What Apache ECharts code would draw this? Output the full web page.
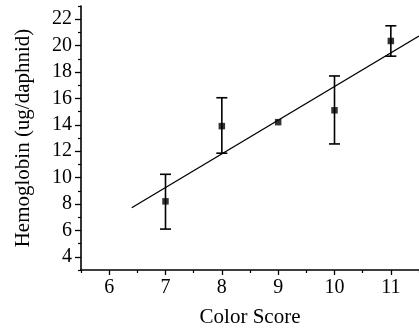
<!DOCTYPE html>
<html>
<head>
<meta charset="utf-8">
<script src="https://cdn.jsdelivr.net/npm/echarts@6/dist/echarts.min.js"></script>
<style>
  html, body { margin: 0; padding: 0; background: #fff; }
  #chart { width: 419px; height: 333px; }
</style>
</head>
<body>
<div id="chart"></div>
<script>
// Hemoglobin content per daphnid by color score
const colorScore = [7, 8, 9, 10, 11];
const hemoglobin = [8.2, 13.9, 14.2, 15.1, 20.35];
// Error bar limits (null: spread hidden behind the marker)
const errLow = [6.1, 11.85, null, 12.55, 19.2];
const errHigh = [10.25, 16.05, null, 17.7, 21.5];

// Linear fit endpoints
const fitX = [6.4, 11.5];
const fitY = [7.72, 20.73];

// Axis ticks
const xMajor = [6, 7, 8, 9, 10, 11];
const xMinor = [5.5, 6.5, 7.5, 8.5, 9.5, 10.5, 11.5];
const yMajor = [4, 6, 8, 10, 12, 14, 16, 18, 20, 22];
const yMinor = [3, 5, 7, 9, 11, 13, 15, 17, 19, 21, 23];

const FONT = 'Liberation Serif';
const chart = echarts.init(document.getElementById('chart'), null, { renderer: 'canvas' });

const baseX = { type: 'value', min: 5.5, max: 11.5, splitLine: { show: false } };
const baseY = { type: 'value', min: 3, max: 23, splitLine: { show: false } };

chart.setOption({
  backgroundColor: '#fff',
  animation: false,
  grid: { left: 81, right: -4.6, top: 6, bottom: 63 },
  xAxis: [
    Object.assign({}, baseX, {
      name: 'Color Score',
      nameLocation: 'middle',
      nameGap: 37,
      nameTextStyle: { fontFamily: FONT, fontSize: 21, color: '#000' },
      axisLine: { show: true, lineStyle: { color: '#000', width: 1.6 } },
      axisTick: { show: true, inside: false, length: 5, customValues: xMajor, lineStyle: { color: '#000', width: 1.3 } },
      axisLabel: { customValues: xMajor, margin: 8, fontFamily: FONT, fontSize: 20, color: '#000' }
    }),
    Object.assign({}, baseX, {
      position: 'bottom',
      axisLine: { show: false },
      axisTick: { show: true, inside: false, length: 3, customValues: xMinor, lineStyle: { color: '#000', width: 1.2 } },
      axisLabel: { show: false }
    })
  ],
  yAxis: [
    Object.assign({}, baseY, {
      name: 'Hemoglobin (ug/daphnid)',
      nameLocation: 'middle',
      nameGap: 47,
      nameTextStyle: { fontFamily: FONT, fontSize: 21, color: '#000' },
      axisLine: { show: true, lineStyle: { color: '#000', width: 1.6 } },
      axisTick: { show: true, inside: false, length: 6, customValues: yMajor, lineStyle: { color: '#000', width: 1.3 } },
      axisLabel: { customValues: yMajor, margin: 9, fontFamily: FONT, fontSize: 20, color: '#000' }
    }),
    Object.assign({}, baseY, {
      position: 'left',
      axisLine: { show: false },
      axisTick: { show: true, inside: false, length: 3, customValues: yMinor, lineStyle: { color: '#000', width: 1.2 } },
      axisLabel: { show: false }
    })
  ],
  series: [
    {
      type: 'line',
      data: fitX.map((x, i) => [x, fitY[i]]),
      showSymbol: false,
      symbol: 'none',
      lineStyle: { color: '#000', width: 1.3 },
      z: 2
    },
    {
      type: 'custom',
      data: colorScore
        .map((x, i) => [x, errLow[i], errHigh[i]])
        .filter(d => d[1] !== null && d[2] !== null),
      renderItem: function (params, api) {
        const x = api.value(0);
        const lo = api.coord([x, api.value(1)]);
        const hi = api.coord([x, api.value(2)]);
        const half = 5.5;
        const style = { stroke: '#000', lineWidth: 1.6, fill: null };
        return {
          type: 'group',
          children: [
            { type: 'line', shape: { x1: lo[0], y1: lo[1], x2: hi[0], y2: hi[1] }, style: style },
            { type: 'line', shape: { x1: hi[0] - half, y1: hi[1], x2: hi[0] + half, y2: hi[1] }, style: style },
            { type: 'line', shape: { x1: lo[0] - half, y1: lo[1], x2: lo[0] + half, y2: lo[1] }, style: style }
          ]
        };
      },
      z: 3
    },
    {
      type: 'scatter',
      data: colorScore.map((x, i) => [x, hemoglobin[i]]),
      symbol: 'rect',
      symbolSize: 6.5,
      itemStyle: { color: '#000' },
      z: 4
    }
  ]
});
</script>
</body>
</html>
